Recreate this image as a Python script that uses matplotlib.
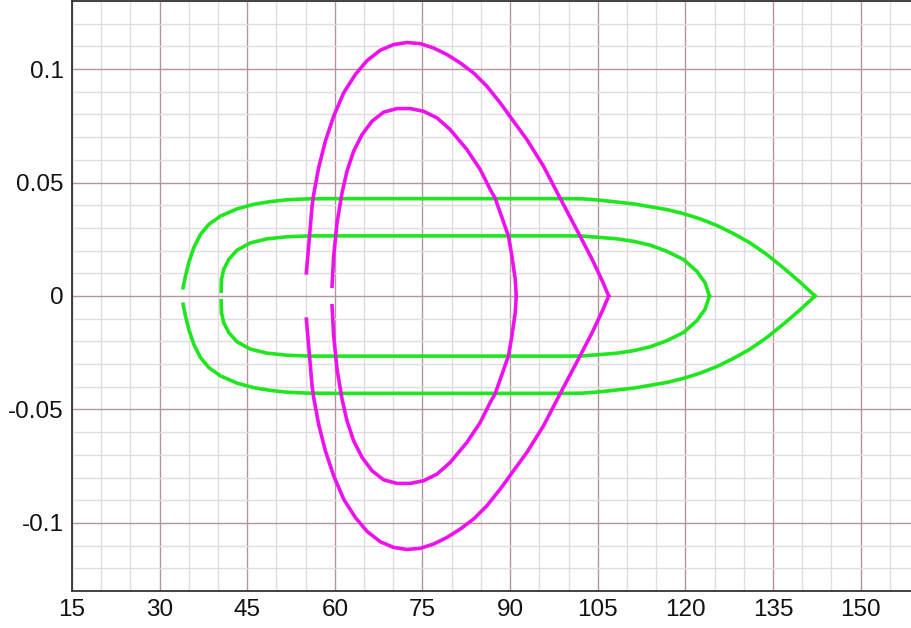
import numpy as np
import matplotlib.pyplot as plt
from matplotlib.ticker import MultipleLocator

plt.rcParams['font.family'] = ['Liberation Sans', 'DejaVu Sans']

# upper halves of the orbits (lower halves are the mirror image)
green_outer_x = [34.02, 34.42, 34.98, 35.84, 36.98, 38.40, 40.41, 43.26, 46.10, 48.96,
                 51.82, 55.24, 60.0, 70.0, 80.0, 90.0, 100.0, 102.5, 105.42, 111.12,
                 116.83, 119.67, 122.53, 125.38, 128.23, 131.08, 133.94, 136.78, 139.64, 142.20]
green_outer_y = [0.0036, 0.0087, 0.0146, 0.0212, 0.0271, 0.0315, 0.0352, 0.0384, 0.0404, 0.0416,
                 0.0424, 0.0428, 0.0429, 0.0429, 0.0429, 0.0429, 0.0429, 0.0428, 0.0422, 0.0406,
                 0.0381, 0.0363, 0.0340, 0.0311, 0.0275, 0.0234, 0.0183, 0.0124, 0.0061, 0.0]

green_inner_x = [40.53, 40.58, 40.97, 41.83, 43.26, 45.54, 48.40, 51.82, 55.80, 60.0,
                 70.0, 80.0, 90.0, 100.0, 102.5, 105.42, 108.28, 111.12, 113.97, 116.83,
                 119.67, 121.96, 123.38, 124.12]
green_inner_y = [0.0021, 0.0073, 0.0117, 0.0161, 0.0202, 0.0234, 0.0252, 0.0261, 0.0265, 0.0265,
                 0.0265, 0.0265, 0.0265, 0.0265, 0.0264, 0.0258, 0.0252, 0.0241, 0.0224, 0.0197,
                 0.0161, 0.0109, 0.0058, 0.0]

magenta_outer_x = [55.12, 55.51, 56.10, 56.37, 57.22, 58.37, 59.79, 61.50, 63.50, 65.50,
                   67.78, 70.06, 72.35, 74.62, 76.90, 79.19, 81.47, 83.74, 86.04, 88.31,
                   90.59, 92.88, 95.72, 98.58, 102.00, 104.05, 105.93, 106.87]
magenta_outer_y = [0.0102, 0.0219, 0.0396, 0.0447, 0.0565, 0.0682, 0.0792, 0.0895, 0.0976, 0.1037,
                   0.1083, 0.1108, 0.1117, 0.1112, 0.1093, 0.1064, 0.1027, 0.0983, 0.0924, 0.0851,
                   0.0770, 0.0689, 0.0572, 0.0430, 0.0263, 0.0161, 0.0058, 0.0]

magenta_inner_x = [59.52, 59.79, 60.37, 61.23, 62.08, 63.21, 64.65, 66.36, 68.34, 70.64,
                   72.91, 75.19, 77.48, 79.76, 82.61, 84.89, 86.60, 87.46, 88.31, 89.73,
                   90.31, 90.88, 91.05]
magenta_inner_y = [0.0043, 0.0175, 0.0322, 0.0455, 0.0550, 0.0638, 0.0711, 0.0770, 0.0810, 0.0826,
                   0.0826, 0.0814, 0.0785, 0.0733, 0.0645, 0.0557, 0.0469, 0.0430, 0.0367, 0.0263,
                   0.0175, 0.0073, 0.0]

x_ticks = [15, 30, 45, 60, 75, 90, 105, 120, 135, 150]
y_ticks = [-0.1, -0.05, 0, 0.05, 0.1]
y_tick_labels = ['-0.1', '-0.05', '0', '0.05', '0.1']

green = '#1fe61f'
magenta = '#ee11ee'

fig = plt.figure(figsize=(9.12, 6.28), dpi=100)
ax = fig.add_axes([72 / 912, 1 - 591 / 628, 1 - 72 / 912, 590 / 628])

orbits = [
    (green_outer_x, green_outer_y, green),
    (green_inner_x, green_inner_y, green),
    (magenta_outer_x, magenta_outer_y, magenta),
    (magenta_inner_x, magenta_inner_y, magenta),
]
for xs, ys, c in orbits:
    ys = np.array(ys)
    ax.plot(xs, ys, color=c, lw=2.6, solid_joinstyle='round', zorder=3)
    ax.plot(xs, -ys, color=c, lw=2.6, solid_joinstyle='round', zorder=3)

ax.set_xlim(15, 158.8)
ax.set_ylim(-0.13, 0.13)

ax.set_xticks(x_ticks)
ax.set_yticks(y_ticks)
ax.set_yticklabels(y_tick_labels)
ax.xaxis.set_minor_locator(MultipleLocator(5))
ax.yaxis.set_minor_locator(MultipleLocator(0.01))

ax.grid(which='minor', color='#e2dcdf', lw=1.0, zorder=0)
ax.grid(which='major', color='#b4959a', lw=1.0, zorder=1)
ax.set_axisbelow(True)

ax.tick_params(which='both', length=0, labelsize=17.5, colors='#111111')
ax.tick_params(axis='y', pad=6)
ax.tick_params(axis='x', pad=6)
for side in ['left', 'top', 'bottom']:
    ax.spines[side].set_color('#333333')
    ax.spines[side].set_linewidth(1.3)
ax.spines['right'].set_visible(False)

fig.savefig('out.png', dpi=100)
